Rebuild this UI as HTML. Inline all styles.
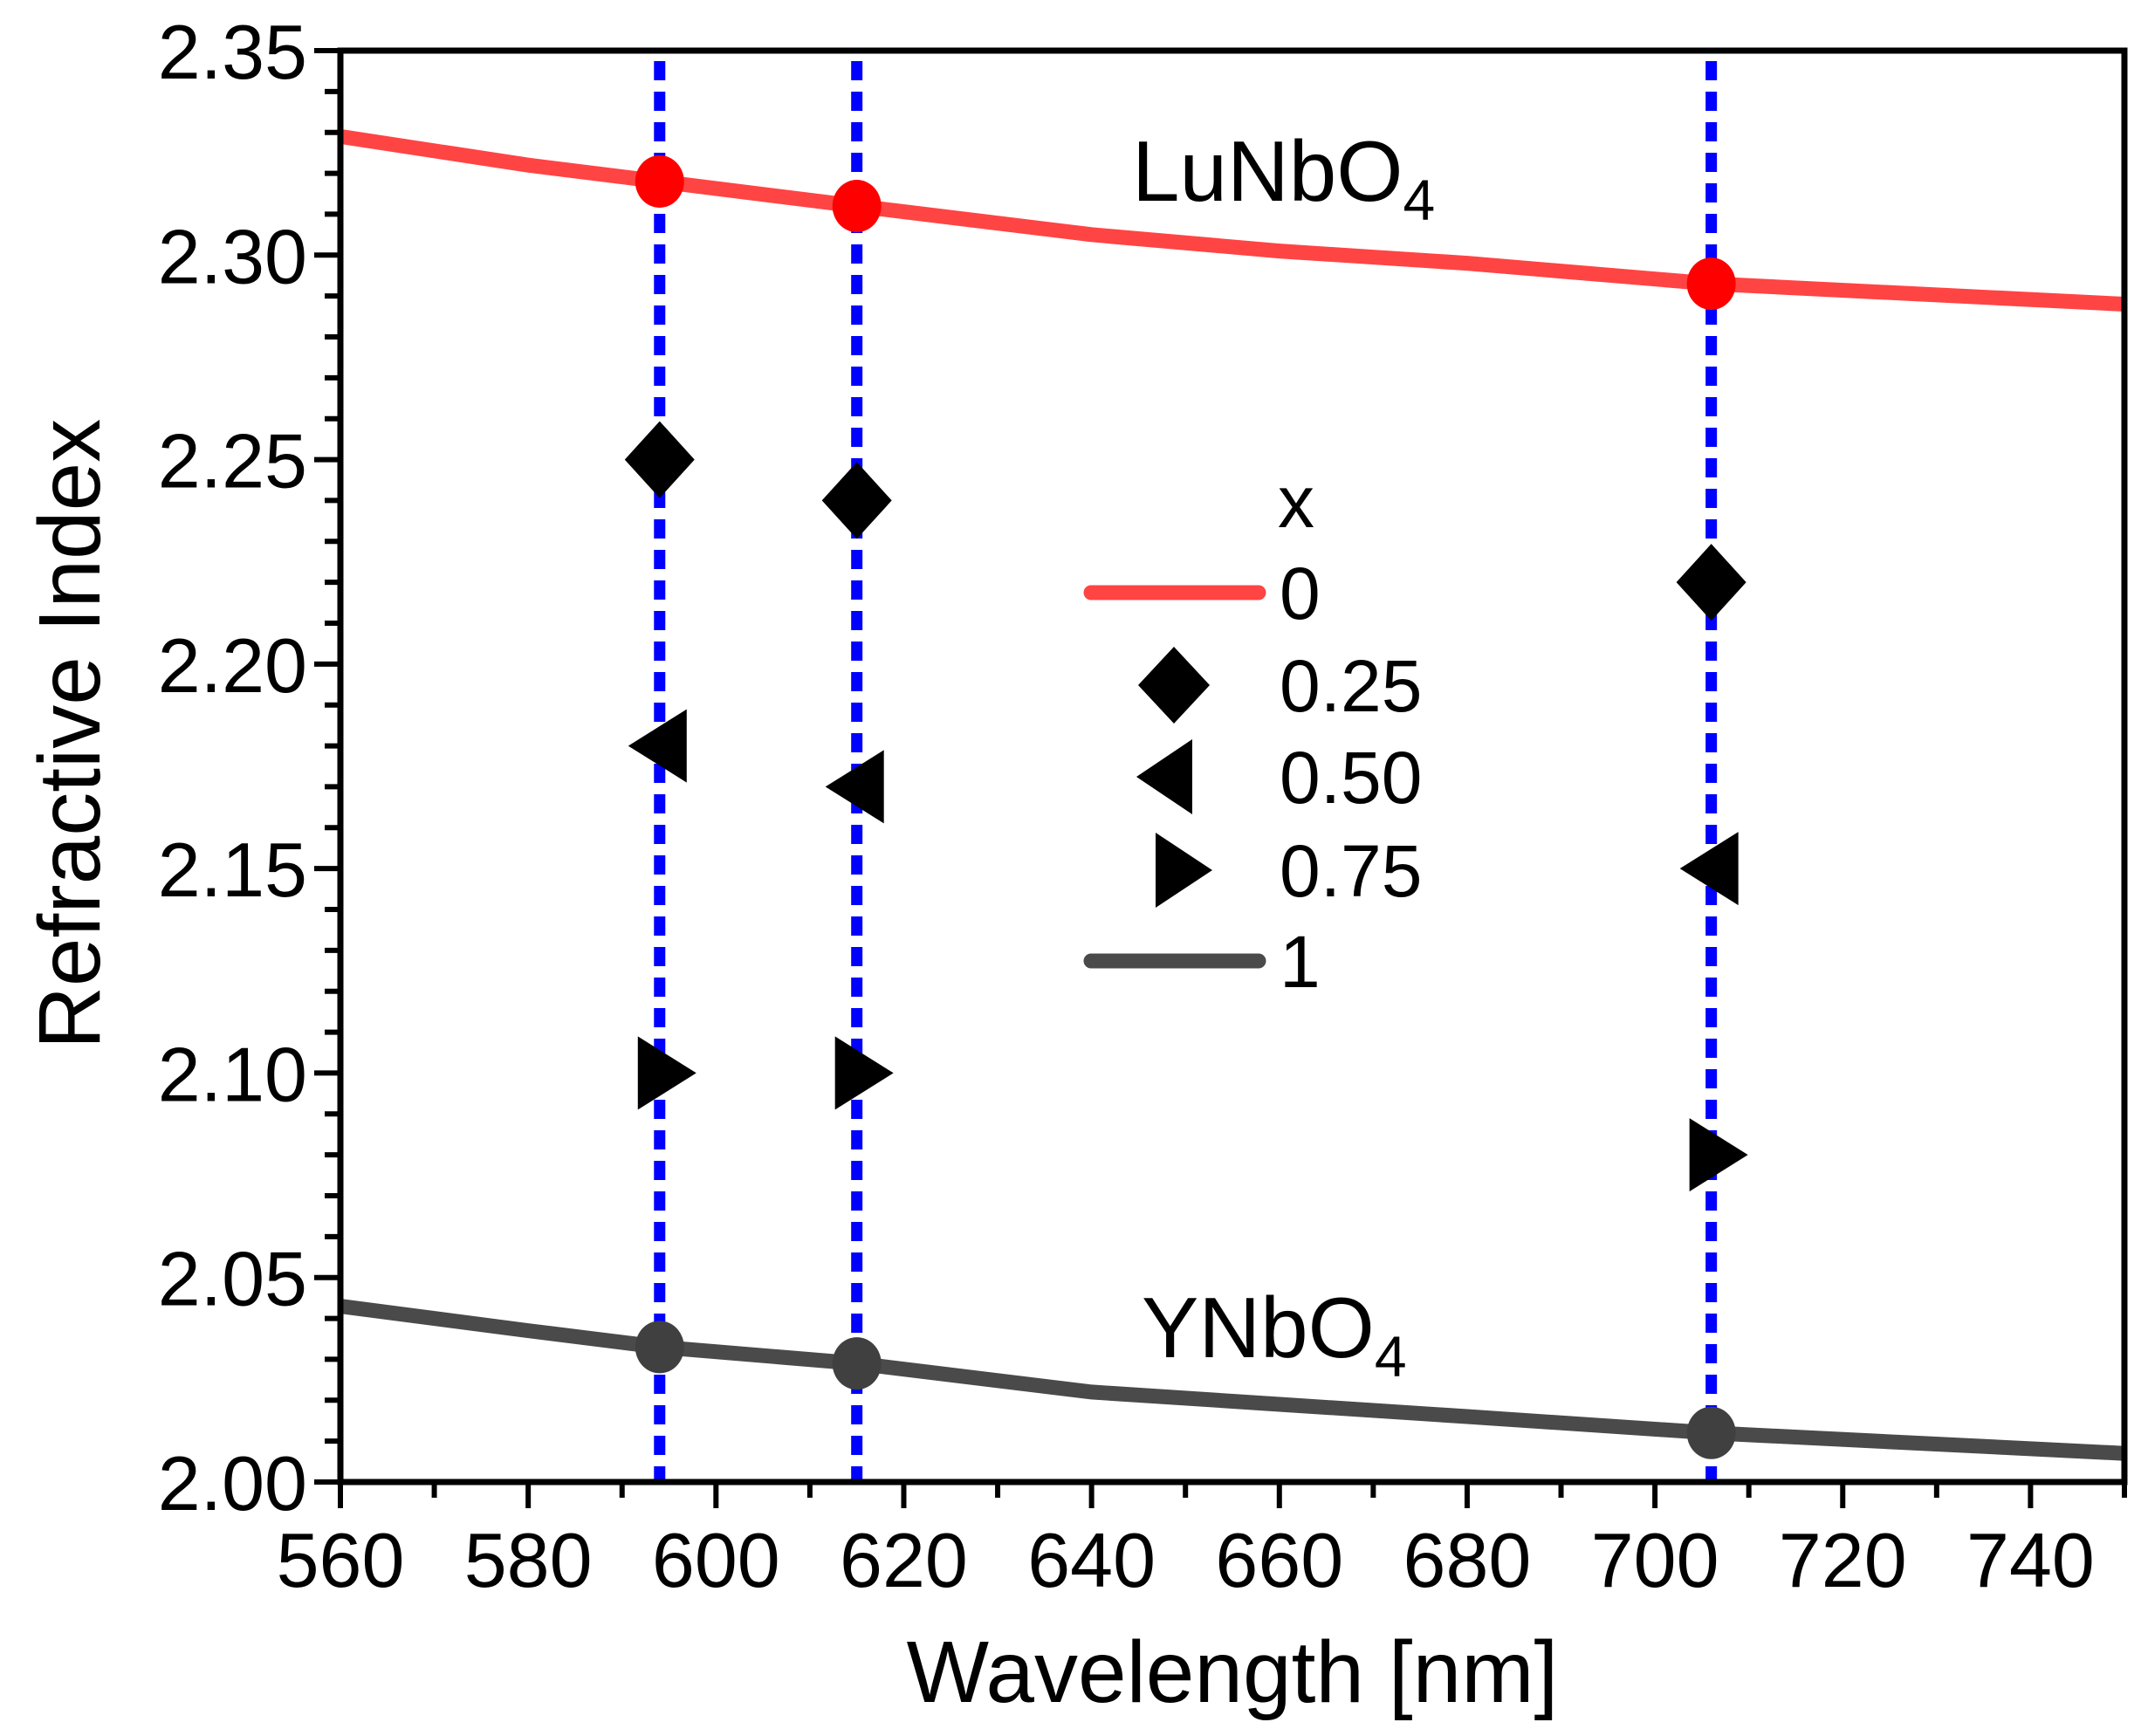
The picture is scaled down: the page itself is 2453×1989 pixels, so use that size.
<!DOCTYPE html>
<html><head><meta charset="utf-8"><style>
html,body{margin:0;padding:0;background:#fff}
svg{display:block}
text{font-family:"Liberation Sans",Arial,sans-serif;fill:#000}
</style></head><body>
<svg id="chart" width="2453" height="1989" viewBox="0 0 2453 1989" xmlns="http://www.w3.org/2000/svg"></svg>
<script>
const xTicks=[560,580,600,620,640,660,680,700,720,740];
const yTicks=[2.00,2.05,2.10,2.15,2.20,2.25,2.30,2.35];
const yTickLabels=["2.00","2.05","2.10","2.15","2.20","2.25","2.30","2.35"];
const lineX=[560,580,594,615,640,660,680,706,750];
const luValues=[2.329,2.322,2.318,2.312,2.305,2.301,2.298,2.293,2.288];
const yValues=[2.043,2.037,2.033,2.029,2.022,2.019,2.016,2.012,2.007];
const markX=[594,615,706];
const luMarks=[2.318,2.312,2.293];
const yMarks=[2.033,2.029,2.012];
const x025=[2.25,2.24,2.22];
const x050=[2.18,2.17,2.15];
const x075=[2.10,2.10,2.08];
const vLines=[594,615,706];

const L=390,R=2434,T=58,B=1698;
const X=v=>L+(v-560)/(750-560)*(R-L);
const Y=v=>B-(v-2.0)/(0.35)*(B-T);
const svg=document.getElementById('chart');
const NS='http://www.w3.org/2000/svg';
function mk(tag,attrs,parent){const e=document.createElementNS(NS,tag);for(const k in attrs)e.setAttribute(k,attrs[k]);(parent||svg).appendChild(e);return e;}

vLines.forEach(v=>{
  const e=mk('line',{x1:X(v),x2:X(v),y1:T+12,y2:B,stroke:'#0000ff','stroke-width':13,'stroke-dasharray':'22 13'});
  
  
});
function curve(vals,color,name){
  const d=lineX.map((x,i)=>(i?'L':'M')+X(x)+' '+Y(vals[i])).join(' ');
  const e=mk('path',{d:d,fill:'none',stroke:color,'stroke-width':17});
  
  
}
curve(luValues,'#ff4444','lunbo4-curve');
curve(yValues,'#4a4a4a','ynbo4-curve');
markX.forEach((x,i)=>{
  const c=mk('ellipse',{cx:X(x),cy:Y(luMarks[i]),rx:28,ry:30,fill:'#ff0000'});
  
  
  const g=mk('ellipse',{cx:X(x),cy:Y(yMarks[i]),rx:28,ry:30,fill:'#404040'});
  
  
});
function diamond(cx,cy){return `${cx},${cy-44} ${cx+40},${cy} ${cx},${cy+44} ${cx-40},${cy}`;}
function ltri(cx,cy){return `${cx-36},${cy} ${cx+31},${cy-42} ${cx+31},${cy+42}`;}
function rtri(cx,cy){return `${cx+36},${cy} ${cx-31},${cy-42} ${cx-31},${cy+42}`;}
markX.forEach((x,i)=>{
  let e=mk('polygon',{points:diamond(X(x),Y(x025[i])),fill:'#000'});
  
  
  e=mk('polygon',{points:ltri(X(x),Y(x050[i])),fill:'#000'});
  
  
  e=mk('polygon',{points:rtri(X(x)+6,Y(x075[i])),fill:'#000'});
  
  
});
let ax=mk('rect',{x:L,y:T,width:R-L,height:B-T,fill:'none',stroke:'#000','stroke-width':7});


for(let v=560;v<=750;v+=10){
  const major=(v%20===0);
  const t=mk('line',{x1:X(v),x2:X(v),y1:B,y2:B+(major?30:18),stroke:'#000','stroke-width':6});
  
  
}
xTicks.forEach(v=>{
  const t=mk('text',{x:X(v),y:B+120,'font-size':88,'text-anchor':'middle'});
  t.textContent=v;
  
  
});
for(let i=0;i<=35;i++){
  const v=2+i*0.01;const major=(i%5===0);
  const t=mk('line',{x1:L,x2:L-(major?30:18),y1:Y(v),y2:Y(v),stroke:'#000','stroke-width':6});
  
  
}
yTicks.forEach((v,i)=>{
  const t=mk('text',{x:L-38,y:Y(v)+32,'font-size':88,'text-anchor':'end'});
  t.textContent=yTickLabels[i];
  
  
});
</script>
<svg style="position:absolute;left:0;top:0" width="2453" height="1989" xmlns="http://www.w3.org/2000/svg">
<text x="1412" y="1950" font-size="100" text-anchor="middle">Wavelength [nm]</text>
<text transform="translate(114,841) rotate(-90)" font-size="100" text-anchor="middle">Refractive Index</text>
<text x="1297" y="230" font-size="98">LuNbO<tspan font-size="66" dy="22">4</tspan></text>
<text x="1308" y="1555" font-size="98">YNbO<tspan font-size="66" dy="22">4</tspan></text>
<g>
<text x="1464" y="604" font-size="84">x</text>
<line x1="1250" x2="1442" y1="679" y2="679" stroke="#ff4444" stroke-width="17" stroke-linecap="round"/>
<text x="1466" y="709" font-size="84">0</text>
<polygon points="1345,741 1386,785 1345,829 1304,785" fill="#000"/>
<text x="1466" y="815" font-size="84">0.25</text>
<polygon points="1302,890 1366,847 1366,933" fill="#000"/>
<text x="1466" y="920" font-size="84">0.50</text>
<polygon points="1389,997 1324,954 1324,1040" fill="#000"/>
<text x="1466" y="1027" font-size="84">0.75</text>
<line x1="1250" x2="1442" y1="1101" y2="1101" stroke="#4a4a4a" stroke-width="17" stroke-linecap="round"/>
<text x="1466" y="1131" font-size="84">1</text>
</g>
</svg>
</body></html>
